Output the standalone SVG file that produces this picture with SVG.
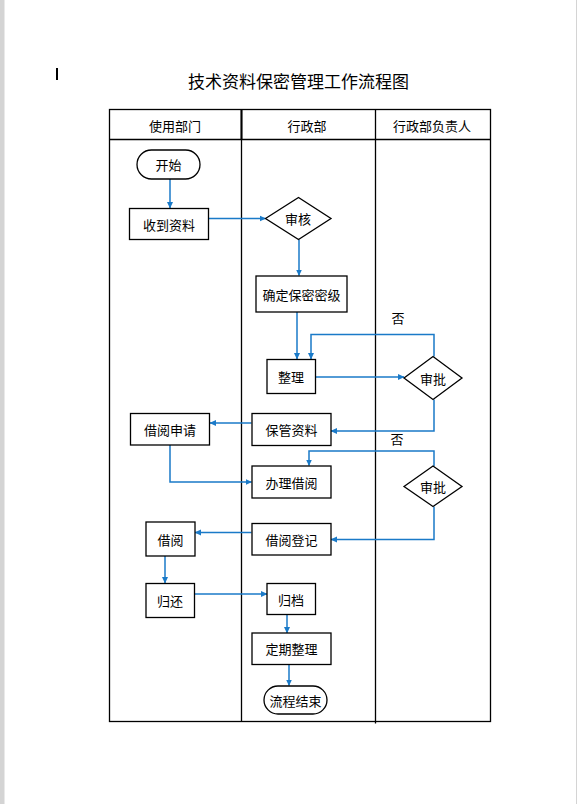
<svg xmlns="http://www.w3.org/2000/svg" width="577" height="804" viewBox="0 0 577 804">
<defs>
<marker id="ah" markerWidth="7" markerHeight="7" refX="6" refY="3.5" orient="auto" markerUnits="userSpaceOnUse">
<path d="M0,0.5 L6.5,3.5 L0,6.5 Z" fill="#1a7ac8"/>
</marker>
<style>
text{font-family:"Noto Sans CJK SC","Noto Sans",sans-serif;font-size:13px;fill:#000;text-anchor:middle;dominant-baseline:central}
.title{font-size:17px}
.grid{fill:none;stroke:#000;stroke-width:1.3}
.node{fill:#fff;stroke:#000;stroke-width:1.3}
.conn{fill:none;stroke:#1a7ac8;stroke-width:1.5;marker-end:url(#ah)}
</style>
</defs>
<rect x="0" y="0" width="577" height="804" fill="#fff"/>
<rect x="0" y="0" width="4.5" height="804" fill="#d4d4d4"/>
<rect x="576" y="0" width="1" height="804" fill="#d4d4d4"/>
<rect x="56" y="68" width="2" height="12" fill="#000"/>
<text class="title" x="298.5" y="80">技术资料保密管理工作流程图</text>
<g id="table">
<rect class="grid" x="109.5" y="109.5" width="381" height="612"/>
<line class="grid" x1="109.5" y1="139.5" x2="490.5" y2="139.5"/>
<line class="grid" x1="241.5" y1="109.5" x2="241.5" y2="721.5"/>
<line x1="241.5" y1="109.5" x2="241.5" y2="139.5" stroke="#000" stroke-width="2"/>
<line class="grid" x1="375.5" y1="109.5" x2="375.5" y2="723.5"/>
<text x="175" y="125">使用部门</text>
<text x="307" y="125">行政部</text>
<text x="432" y="125">行政部负责人</text>
</g>
<g id="connectors">
<path class="conn" d="M170,179 V208"/>
<path class="conn" d="M209,218.5 H265.5"/>
<path class="conn" d="M299,239.5 V275.5"/>
<path class="conn" d="M297,312 V359"/>
<path class="conn" d="M434,356.5 V334.5 H311 V359"/>
<path class="conn" d="M315.5,377 H404"/>
<path class="conn" d="M434,399.5 V431 H331"/>
<path class="conn" d="M251.5,423 H210"/>
<path class="conn" d="M170,445 V482 H251.5"/>
<path class="conn" d="M434,466 V451 H309 V465.5"/>
<path class="conn" d="M434,506.5 V539.5 H331"/>
<path class="conn" d="M251.5,532.5 H195"/>
<path class="conn" d="M165,556 V583"/>
<path class="conn" d="M194.5,594 H267"/>
<path class="conn" d="M287,614.5 V633"/>
<path class="conn" d="M289,665 V685.5"/>
<text x="398" y="317">否</text>
<text x="397" y="438">否</text>
</g>
<g id="n-start"><rect class="node" x="137" y="150" width="63" height="29" rx="14.5"/><text x="168.5" y="164.5">开始</text></g>
<g id="n-receive"><rect class="node" x="129.5" y="208.5" width="79" height="31"/><text x="169" y="224">收到资料</text></g>
<g id="n-review"><polygon class="node" points="265.5,218.5 298.5,197.5 331,218.5 298.5,239.5"/><text x="298" y="218.5">审核</text></g>
<g id="n-level"><rect class="node" x="256" y="276" width="91" height="36"/><text x="301.5" y="294">确定保密密级</text></g>
<g id="n-sort"><rect class="node" x="267" y="359.5" width="48.5" height="34"/><text x="291" y="376.5">整理</text></g>
<g id="n-approve1"><polygon class="node" points="404,378 433,356.5 462,378 433,399.5"/><text x="433" y="378">审批</text></g>
<g id="n-keep"><rect class="node" x="252" y="413.5" width="79" height="32"/><text x="291.5" y="429.5">保管资料</text></g>
<g id="n-apply"><rect class="node" x="130.5" y="413.5" width="79" height="31.5"/><text x="170" y="429">借阅申请</text></g>
<g id="n-handle"><rect class="node" x="252" y="466" width="79" height="32"/><text x="291.5" y="482">办理借阅</text></g>
<g id="n-approve2"><polygon class="node" points="404,486.5 433,466 462,486.5 433,506.5"/><text x="433" y="486.5">审批</text></g>
<g id="n-register"><rect class="node" x="252" y="523.5" width="79" height="31.5"/><text x="291.5" y="539">借阅登记</text></g>
<g id="n-borrow"><rect class="node" x="146" y="522" width="49" height="34"/><text x="170.5" y="539">借阅</text></g>
<g id="n-return"><rect class="node" x="146" y="583.5" width="48.5" height="34"/><text x="170" y="600.5">归还</text></g>
<g id="n-archive"><rect class="node" x="267" y="583.5" width="48.5" height="31"/><text x="291" y="599">归档</text></g>
<g id="n-regular"><rect class="node" x="252" y="633" width="79" height="31.5"/><text x="291.5" y="648.5">定期整理</text></g>
<g id="n-end"><rect class="node" x="264" y="686" width="63" height="28" rx="14"/><text x="295.5" y="700">流程结束</text></g>
</svg>
